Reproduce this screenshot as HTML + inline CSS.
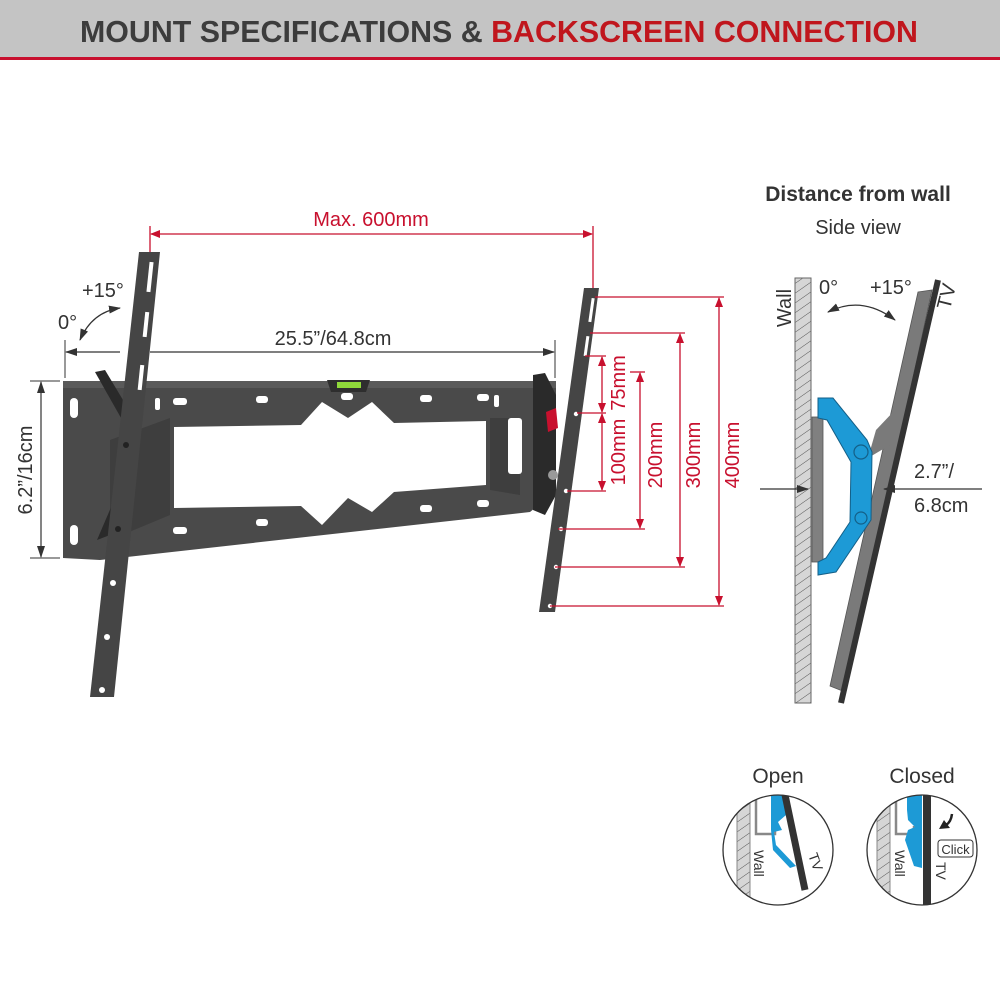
<!DOCTYPE html>
<html><head><meta charset="utf-8"><style>
html,body{margin:0;padding:0;background:#fff}
svg{display:block}
text{font-family:"Liberation Sans",sans-serif}
</style></head><body>
<svg width="1000" height="1000" viewBox="0 0 1000 1000" xmlns="http://www.w3.org/2000/svg">
<defs>
<pattern id="hatch" width="8" height="8" patternUnits="userSpaceOnUse" patternTransform="rotate(-35)">
<rect width="8" height="8" fill="#d6d6d6"/><line x1="0" y1="0" x2="8" y2="0" stroke="#555" stroke-width="1"/>
</pattern>
<marker id="ra" markerWidth="10" markerHeight="10" refX="9" refY="5" orient="auto-start-reverse" markerUnits="userSpaceOnUse"><path d="M0,1 L10,5 L0,9 Z" fill="#c8102e"/></marker>
<marker id="ka" markerWidth="12" markerHeight="10" refX="11" refY="5" orient="auto-start-reverse" markerUnits="userSpaceOnUse"><path d="M0,1 L12,5 L0,9 Z" fill="#333"/></marker>
</defs>
<rect x="0" y="0" width="1000" height="57" fill="#c4c4c4"/>
<rect x="0" y="57" width="1000" height="3" fill="#c8102e"/>
<text x="80" y="42" font-size="31" font-weight="bold" textLength="838" lengthAdjust="spacingAndGlyphs"><tspan fill="#3c3c3c">MOUNT SPECIFICATIONS &amp; </tspan><tspan fill="#c0161d">BACKSCREEN CONNECTION</tspan></text>

<line x1="150" y1="226" x2="150" y2="262" stroke="#c8102e" stroke-width="1.3"/>
<line x1="593" y1="226" x2="593" y2="295" stroke="#c8102e" stroke-width="1.3"/>
<line x1="151" y1="234" x2="592" y2="234" stroke="#c8102e" stroke-width="1.3" marker-start="url(#ra)" marker-end="url(#ra)"/>
<text x="371" y="226" font-size="20" fill="#c8102e" text-anchor="middle">Max. 600mm</text>

<line x1="65" y1="340" x2="65" y2="378" stroke="#333" stroke-width="1"/>
<line x1="555" y1="340" x2="555" y2="378" stroke="#333" stroke-width="1"/>
<line x1="66" y1="352" x2="554" y2="352" stroke="#333" stroke-width="1.2" marker-start="url(#ka)" marker-end="url(#ka)"/>
<rect x="120" y="345" width="30" height="14" fill="#fff"/>
<text x="333" y="345" font-size="20" fill="#333" text-anchor="middle">25.5”/64.8cm</text>

<line x1="30" y1="381" x2="60" y2="381" stroke="#333" stroke-width="1"/>
<line x1="30" y1="558" x2="60" y2="558" stroke="#333" stroke-width="1"/>
<line x1="41" y1="382" x2="41" y2="557" stroke="#333" stroke-width="1.2" marker-start="url(#ka)" marker-end="url(#ka)"/>
<text transform="translate(32,470) rotate(-90)" font-size="20" fill="#333" text-anchor="middle">6.2”/16cm</text>

<text x="82" y="297" font-size="20" fill="#333">+15°</text>
<text x="58" y="329" font-size="20" fill="#333">0°</text>
<path d="M120,308 Q92,312 80,340" fill="none" stroke="#333" stroke-width="1.3" marker-start="url(#ka)" marker-end="url(#ka)"/>

<polygon points="63,381 556,381 556,395 545,400 545,500 530,512 100,560 63,558" fill="#4a4a4a"/>
<polygon points="63,381 556,381 556,388 63,388" fill="#5a5a5a"/>
<polygon points="110,440 170,418 170,515 110,540" fill="#3e3e3e"/>
<polygon points="490,418 520,418 520,495 490,490" fill="#3e3e3e"/>
<polygon points="174,427 301,425 322,402 348,418 372,402 394,423 486,421 486,485 394,492 372,512 348,498 322,525 301,506 174,508" fill="#fff"/>
<rect x="508" y="418" width="14" height="56" rx="3" fill="#fff"/>
<rect x="70" y="398" width="8" height="20" rx="4" fill="#fff"/>
<rect x="70" y="525" width="8" height="20" rx="4" fill="#fff"/>
<g fill="#fff">
<rect x="173" y="398" width="14" height="7" rx="3"/><rect x="256" y="396" width="12" height="7" rx="3"/><rect x="420" y="395" width="12" height="7" rx="3"/><rect x="477" y="394" width="12" height="7" rx="3"/>
<rect x="173" y="527" width="14" height="7" rx="3"/><rect x="256" y="519" width="12" height="7" rx="3"/><rect x="420" y="505" width="12" height="7" rx="3"/><rect x="477" y="500" width="12" height="7" rx="3"/>
<rect x="341" y="393" width="12" height="7" rx="3"/>
<rect x="155" y="398" width="5" height="12" rx="2"/><rect x="494" y="395" width="5" height="12" rx="2"/>
</g>
<polygon points="327,380 370,380 366,392 331,392" fill="#2e2e2e"/>
<rect x="337" y="382" width="24" height="6" fill="#8fd93a"/>
<polygon points="533,375 545,373 556,395 556,495 545,515 533,510" fill="#2a2a2a"/>
<polygon points="546,412 556,408 558,428 548,432" fill="#c8102e"/>
<circle cx="553" cy="475" r="5" fill="#999"/>
<polygon points="95,372 105,370 135,420 125,425" fill="#2a2a2a"/>
<polygon points="97,540 110,535 125,500 115,498" fill="#2a2a2a"/>

<polygon points="139,252 160,252 114,697 90,697" fill="#454545"/>
<g fill="#fff">
<rect x="148" y="262" width="4" height="30" transform="rotate(6 150 277)"/>
<rect x="144" y="312" width="4" height="25" transform="rotate(6 146 324)"/>
<rect x="139" y="365" width="4" height="25" transform="rotate(6 141 377)"/>
<circle cx="113" cy="583" r="3"/><circle cx="107" cy="637" r="3"/><circle cx="102" cy="690" r="3"/>
</g>
<circle cx="126" cy="445" r="3" fill="#222"/><circle cx="118" cy="529" r="3" fill="#222"/>

<polygon points="584,288 599,288 555,612 539,612" fill="#454545"/>
<g fill="#fff">
<rect x="590" y="298" width="3" height="24" transform="rotate(8 591 310)"/>
<rect x="585" y="336" width="3" height="20" transform="rotate(8 586 346)"/>
<circle cx="576" cy="414" r="2.2"/><circle cx="566" cy="491" r="2.2"/><circle cx="561" cy="529" r="2.2"/><circle cx="556" cy="567" r="2.2"/><circle cx="550" cy="606" r="2.2"/>
</g>

<g stroke="#c8102e" stroke-width="1.3" fill="none">
<line x1="595" y1="297" x2="724" y2="297"/><line x1="550" y1="606" x2="724" y2="606"/>
<line x1="719" y1="298" x2="719" y2="605" marker-start="url(#ra)" marker-end="url(#ra)"/>
<line x1="590" y1="333" x2="685" y2="333"/><line x1="555" y1="567" x2="685" y2="567"/>
<line x1="680" y1="334" x2="680" y2="566" marker-start="url(#ra)" marker-end="url(#ra)"/>
<line x1="630" y1="372" x2="645" y2="372"/><line x1="558" y1="529" x2="645" y2="529"/>
<line x1="640" y1="373" x2="640" y2="528" marker-start="url(#ra)" marker-end="url(#ra)"/>
<line x1="585" y1="356" x2="606" y2="356"/><line x1="577" y1="413" x2="606" y2="413"/><line x1="567" y1="491" x2="606" y2="491"/>
<line x1="602" y1="357" x2="602" y2="412" marker-start="url(#ra)" marker-end="url(#ra)"/>
<line x1="602" y1="414" x2="602" y2="490" marker-start="url(#ra)" marker-end="url(#ra)"/>
</g>
<g fill="#c8102e" font-size="20" text-anchor="middle">
<text transform="translate(739,455) rotate(-90)">400mm</text>
<text transform="translate(700,455) rotate(-90)">300mm</text>
<text transform="translate(662,455) rotate(-90)">200mm</text>
<text transform="translate(625,452) rotate(-90)">100mm</text>
<text transform="translate(625,383) rotate(-90)">75mm</text>
</g>

<text x="858" y="201" font-size="21" font-weight="bold" fill="#333" text-anchor="middle">Distance from wall</text>
<text x="858" y="234" font-size="20" fill="#333" text-anchor="middle">Side view</text>
<rect x="795" y="278" width="16" height="425" fill="url(#hatch)" stroke="#666" stroke-width="1"/>
<text transform="translate(791,308) rotate(-90)" font-size="20" fill="#333" text-anchor="middle">Wall</text>
<text x="819" y="294" font-size="20" fill="#333">0°</text>
<text x="870" y="294" font-size="20" fill="#333">+15°</text>
<text transform="translate(953,298) rotate(-76)" font-size="20" fill="#333" text-anchor="middle">TV</text>
<path d="M828,312 Q862,295 895,320" fill="none" stroke="#333" stroke-width="1.3" marker-start="url(#ka)" marker-end="url(#ka)"/>
<polygon points="918,292 932,290 845,692 830,686" fill="#7a7a7a" stroke="#555" stroke-width="0.8"/>
<polygon points="876,430 895,410 890,445 868,458" fill="#7a7a7a"/>
<line x1="938" y1="280" x2="841" y2="703" stroke="#333" stroke-width="6"/>
<rect x="812" y="417" width="11" height="145" fill="#808080" stroke="#555" stroke-width="0.8"/>
<polygon points="818,398 833,398 867,440 872,452 871,520 836,572 818,575 818,562 826,558 850,522 851,462 827,420 818,418" fill="#1d9ad6" stroke="#145f87" stroke-width="1"/>
<circle cx="861" cy="452" r="7" fill="none" stroke="#145f87" stroke-width="1.2"/>
<circle cx="861" cy="518" r="6" fill="none" stroke="#145f87" stroke-width="1.2"/>
<line x1="760" y1="489" x2="808" y2="489" stroke="#333" stroke-width="1.3" marker-end="url(#ka)"/>
<line x1="982" y1="489" x2="884" y2="489" stroke="#333" stroke-width="1.3" marker-end="url(#ka)"/>
<text x="914" y="478" font-size="20" fill="#333">2.7”/</text>
<text x="914" y="512" font-size="20" fill="#333">6.8cm</text>

<text x="778" y="783" font-size="21" fill="#333" text-anchor="middle">Open</text>
<text x="922" y="783" font-size="21" fill="#333" text-anchor="middle">Closed</text>
<clipPath id="c1"><circle cx="778" cy="850" r="55"/></clipPath>
<clipPath id="c2"><circle cx="922" cy="850" r="55"/></clipPath>
<g clip-path="url(#c1)">
<rect x="737" y="803" width="13" height="100" fill="url(#hatch)" stroke="#888"/>
<path d="M756,800 V834 H775 V826" fill="none" stroke="#888" stroke-width="2.5"/>
<polygon points="771,790 785,790 786,815 778,822 782,830 774,832 776,845 796,866 790,868 773,850 771,830" fill="#1d9ad6"/>
<line x1="784" y1="790" x2="805" y2="890" stroke="#333" stroke-width="7"/>
<text transform="translate(754,850) rotate(90)" font-size="14" fill="#333">Wall</text>
<text transform="translate(808,855) rotate(70)" font-size="14" fill="#333">TV</text>
</g>
<circle cx="778" cy="850" r="55" fill="none" stroke="#333" stroke-width="1.3"/>
<g clip-path="url(#c2)">
<rect x="877" y="803" width="13" height="100" fill="url(#hatch)" stroke="#888"/>
<path d="M896,800 V834 H914 V826" fill="none" stroke="#888" stroke-width="2.5"/>
<polygon points="907,790 922,790 922,868 914,866 905,840 908,830 915,827 908,820 907,810" fill="#1d9ad6"/>
<rect x="923" y="790" width="8" height="115" fill="#333"/>
<text transform="translate(895,850) rotate(90)" font-size="14" fill="#333">Wall</text>
<text transform="translate(936,862) rotate(90)" font-size="14" fill="#333">TV</text>
<path d="M952,814 Q951,822 946,825" fill="none" stroke="#222" stroke-width="2.5"/>
<polygon points="939,829 944,820 950,828" fill="#222"/>
<rect x="938" y="840" width="35" height="17" rx="3" fill="#fff" stroke="#333"/>
<text x="955.5" y="854" font-size="13" fill="#333" text-anchor="middle">Click</text>
</g>
<circle cx="922" cy="850" r="55" fill="none" stroke="#333" stroke-width="1.3"/>
</svg>
</body></html>
